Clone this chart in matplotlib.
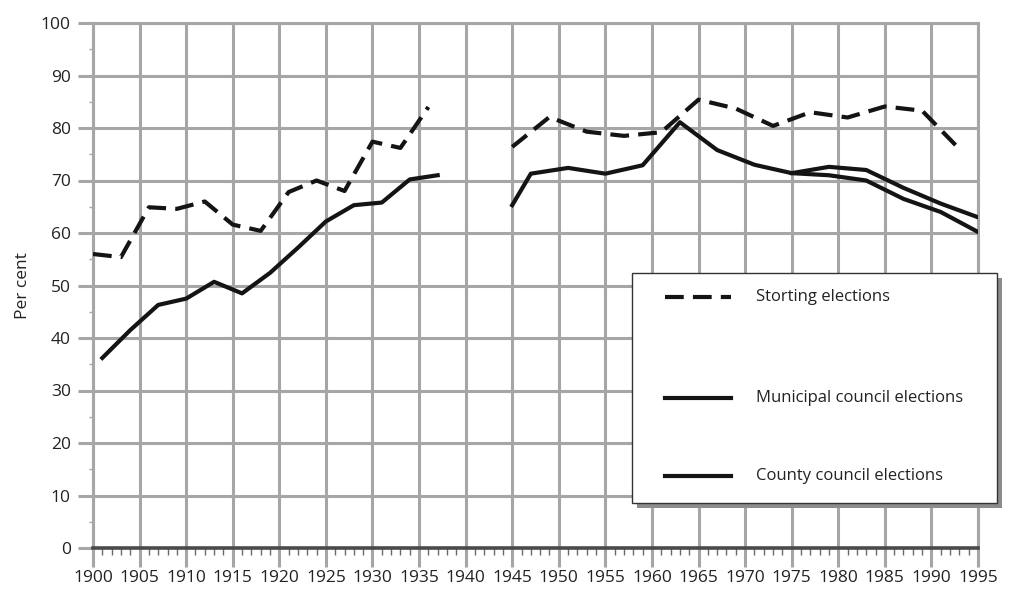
import numpy as np
import matplotlib.pyplot as plt
from matplotlib.patches import Rectangle
from matplotlib.lines import Line2D

plt.rcParams['font.family'] = ['Open Sans', 'DejaVu Sans']

# Storting elections
storting_years = [1900, 1903, 1906, 1909, 1912, 1915, 1918, 1921, 1924, 1927, 1930, 1933, 1936,
                  1940,
                  1945, 1949, 1953, 1957, 1961, 1965, 1969, 1973, 1977, 1981, 1985, 1989, 1993]
storting_vals = [56.0, 55.4, 64.9, 64.6, 66.0, 61.6, 60.4, 67.8, 70.0, 68.0, 77.4, 76.2, 84.0,
                 np.nan,
                 76.4, 82.1, 79.3, 78.5, 79.2, 85.4, 83.7, 80.4, 83.0, 82.0, 84.1, 83.3, 76.0]

# Municipal council elections
municipal_years = [1901, 1904, 1907, 1910, 1913, 1916, 1919, 1922, 1925, 1928, 1931, 1934, 1937,
                   1940,
                   1945, 1947, 1951, 1955, 1959, 1963, 1967, 1971, 1975, 1979, 1983, 1987, 1991, 1995]
municipal_vals = [36.2, 41.5, 46.3, 47.5, 50.7, 48.5, 52.4, 57.2, 62.2, 65.3, 65.8, 70.2, 71.0,
                  np.nan,
                  65.3, 71.3, 72.4, 71.3, 72.9, 81.1, 75.8, 73.0, 71.4, 72.6, 72.0, 68.6, 65.6, 63.0]

# County council elections
county_years = [1975, 1979, 1983, 1987, 1991, 1995]
county_vals = [71.4, 71.0, 70.0, 66.5, 64.0, 60.2]

line_col = '#141414'
grid_col = '#a6a6a6'
text_col = '#222222'

fig = plt.figure(figsize=(10.12, 5.91), dpi=100)
ax = fig.add_axes([93 / 1012, 1 - 548 / 591, 885 / 1012, 525 / 591])

ax.set_xlim(1900, 1995)
ax.set_ylim(0, 100)
ax.set_xticks(np.arange(1900, 1996, 5))
ax.set_yticks(np.arange(0, 101, 10))
ax.set_xticks(np.arange(1900, 1996, 1), minor=True)
ax.set_yticks(np.arange(5, 100, 10), minor=True)

ax.grid(True, which='major', color=grid_col, linewidth=2.2)
for s in ['left', 'top', 'right']:
    ax.spines[s].set_color(grid_col)
    ax.spines[s].set_linewidth(2.2)
ax.spines['bottom'].set_color('#4a4a4a')
ax.spines['bottom'].set_linewidth(2.6)

ax.tick_params(axis='x', which='major', length=14, width=2.2, color=grid_col,
               pad=2, labelsize=12.5, labelcolor=text_col)
ax.tick_params(axis='x', which='minor', length=5, width=1.0, color='#6a6a6a')
ax.tick_params(axis='y', which='major', length=11, width=2.2, color=grid_col,
               pad=5, labelsize=12.5, labelcolor=text_col)
ax.tick_params(axis='y', which='minor', length=3, width=1.0, color=grid_col)

ax.set_ylabel('Per cent', fontsize=12.5, color=text_col)
ax.yaxis.set_label_coords(-0.07, 0.5)

ax.plot(storting_years, storting_vals, color=line_col, linewidth=3.0,
        dashes=(4.5, 2.2), zorder=3)
ax.plot(municipal_years, municipal_vals, color=line_col, linewidth=3.0, zorder=3)
ax.plot(county_years, county_vals, color=line_col, linewidth=3.0, zorder=3)

# legend box drawn by hand (uneven spacing in the original)
W, H = 1012, 591
bx0, by0, bx1, by1 = 632, 273, 997, 503
shadow = Rectangle((bx0 / W + 5 / W, 1 - (by1 + 5) / H), (bx1 - bx0) / W, (by1 - by0) / H,
                   transform=fig.transFigure, facecolor='#8c8c8c', edgecolor='none', zorder=5)
box = Rectangle((bx0 / W, 1 - by1 / H), (bx1 - bx0) / W, (by1 - by0) / H,
                transform=fig.transFigure, facecolor='white', edgecolor='#333333',
                linewidth=1.0, zorder=6)
fig.add_artist(shadow)
fig.add_artist(box)

entries = [('Storting elections', 297, True),
           ('Municipal council elections', 398, False),
           ('County council elections', 476, False)]
for label, py, dashed in entries:
    yy = 1 - py / H
    ln = Line2D([665 / W, 731 / W], [yy, yy], transform=fig.transFigure,
                color=line_col, linewidth=3.0, zorder=7)
    if dashed:
        ln.set_dashes((4.5, 2.2))
    fig.add_artist(ln)
    fig.text(756 / W, yy, label, fontsize=12, color=text_col,
             va='center', ha='left', zorder=7)

fig.savefig('out.png', dpi=100)
